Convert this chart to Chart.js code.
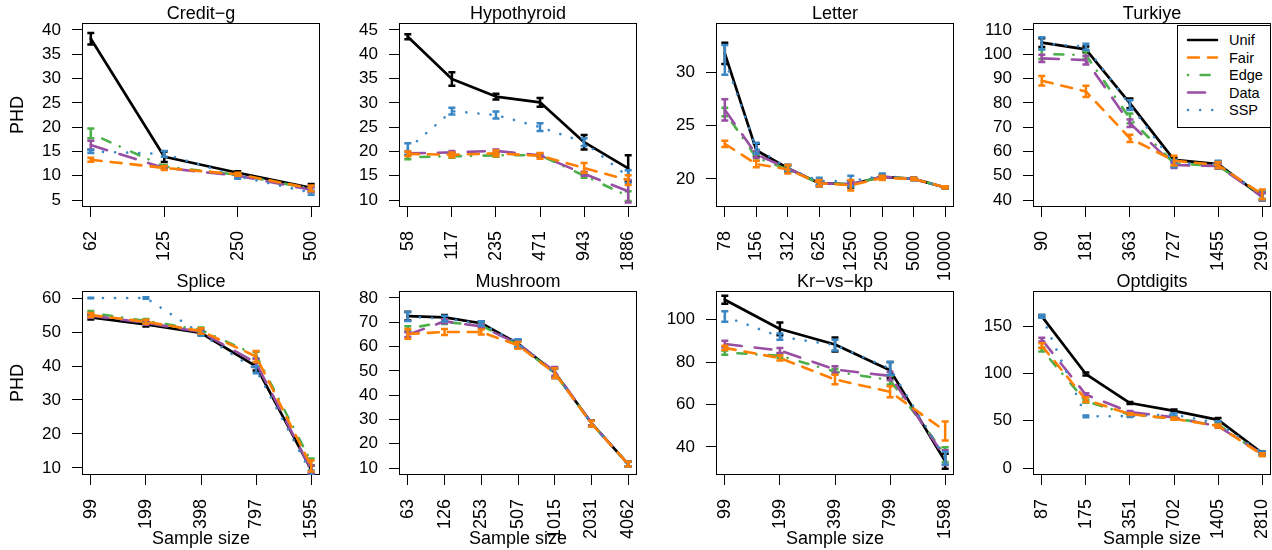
<!DOCTYPE html>
<html>
<head>
<meta charset="utf-8">
<title>PHD by sample size</title>
<script src="https://cdn.jsdelivr.net/npm/chart.js@4.4.1/dist/chart.umd.min.js"></script>
<style>
  body { margin: 0; background: #fff; width: 1272px; height: 550px; position: relative; overflow: hidden; }
  canvas { position: absolute; }
  #legend {
    position: absolute; left: 1177px; top: 25px; width: 94px; height: 103px;
    box-sizing: border-box; border: 1px solid #000; background: #fff; z-index: 10;
    font-family: "Liberation Sans", Arial, sans-serif;
  }
</style>
</head>
<body>
<div id="legend"></div>
<script>
// series, in legend order: Unif, Fair, Edge, Data, SSP
const seriesNames = ["Unif", "Fair", "Edge", "Data", "SSP"];

// Credit-g
const creditSizes = [62, 125, 250, 500];
const creditTicks = [5, 10, 15, 20, 25, 30, 35, 40];
const creditMeans = [
  [38.2, 13.9, 10.6, 7.5],
  [13.3, 11.6, 10.3, 7.4],
  [18.7, 11.9, 10.2, 7.3],
  [16.3, 11.6, 10.0, 7.1],
  [15.0, 14.5, 9.9, 6.5]
];
const creditErrs = [
  [1.2, 1.1, 0.3, 0.8],
  [0.4, 0.4, 0.3, 0.6],
  [1.0, 0.3, 0.3, 0.5],
  [0.9, 0.3, 0.3, 0.5],
  [0.3, 0.6, 0.5, 0.4]
];

// Hypothyroid
const hypoSizes = [58, 117, 235, 471, 943, 1886];
const hypoTicks = [10, 15, 20, 25, 30, 35, 40, 45];
const hypoMeans = [
  [43.6, 34.9, 31.3, 30.1, 21.9, 16.5],
  [19.5, 19.3, 19.6, 19.1, 16.6, 14.1],
  [18.8, 19.0, 19.2, 19.2, 15.0, 10.8],
  [19.6, 19.8, 20.1, 19.2, 15.4, 11.8],
  [20.5, 28.3, 27.5, 25.0, 21.9, 14.8]
];
const hypoErrs = [
  [0.5, 1.4, 0.6, 0.9, 1.5, 2.7],
  [0.5, 0.5, 0.6, 0.6, 1.0, 1.0],
  [0.4, 0.3, 0.3, 0.3, 0.4, 1.0],
  [0.4, 0.3, 0.3, 0.3, 0.4, 2.3],
  [1.2, 0.7, 0.7, 0.8, 0.8, 1.3]
];

// Letter
const letterSizes = [78, 156, 312, 625, 1250, 2500, 5000, 10000];
const letterTicks = [20, 25, 30];
const letterMeans = [
  [31.8, 22.7, 21.0, 19.6, 19.5, 20.2, 20.0, 19.2],
  [23.3, 21.4, 20.9, 19.6, 19.4, 20.1, 20.0, 19.2],
  [26.3, 22.0, 20.9, 19.6, 19.5, 20.2, 20.0, 19.2],
  [26.5, 22.3, 21.0, 19.6, 19.5, 20.2, 20.0, 19.2],
  [31.2, 22.9, 21.0, 19.8, 19.8, 20.3, 20.0, 19.2]
];
const letterErrs = [
  [1.0, 0.6, 0.3, 0.3, 0.3, 0.2, 0.1, 0.1],
  [0.3, 0.3, 0.4, 0.3, 0.5, 0.2, 0.1, 0.1],
  [0.4, 0.3, 0.3, 0.2, 0.2, 0.1, 0.1, 0.1],
  [1.0, 0.3, 0.3, 0.2, 0.2, 0.1, 0.1, 0.1],
  [1.4, 0.5, 0.3, 0.3, 0.5, 0.2, 0.1, 0.1]
];

// Turkiye
const turkSizes = [90, 181, 363, 727, 1455, 2910];
const turkTicks = [40, 50, 60, 70, 80, 90, 100, 110];
const turkMeans = [
  [104.8, 102.0, 79.8, 56.5, 54.8, 41.4],
  [89.1, 84.7, 65.4, 56.2, 54.4, 42.3],
  [100.1, 99.7, 73.6, 55.1, 54.0, 42.0],
  [98.3, 97.6, 71.6, 54.4, 54.0, 41.4],
  [104.5, 103.1, 79.1, 55.0, 54.7, 42.0]
];
const turkErrs = [
  [1.8, 1.2, 2.0, 1.0, 1.0, 1.5],
  [2.0, 2.3, 1.5, 2.0, 1.2, 2.0],
  [2.0, 1.5, 2.0, 1.2, 1.0, 1.5],
  [1.5, 1.8, 1.5, 1.2, 1.0, 1.5],
  [2.5, 1.2, 2.0, 1.5, 1.5, 2.0]
];

// Splice
const spliceSizes = [99, 199, 398, 797, 1595];
const spliceTicks = [10, 20, 30, 40, 50, 60];
const spliceMeans = [
  [54.3, 52.2, 49.7, 39.9, 9.5],
  [55.0, 53.0, 50.3, 42.8, 10.6],
  [55.6, 53.3, 50.6, 43.2, 11.8],
  [54.8, 52.7, 50.0, 40.9, 9.5],
  [60.0, 60.0, 49.5, 38.9, 8.5]
];
const spliceErrs = [
  [0.6, 0.6, 0.6, 1.2, 1.2],
  [0.6, 0.6, 0.8, 1.6, 1.6],
  [0.6, 0.5, 0.7, 1.0, 1.0],
  [0.6, 0.6, 0.6, 1.2, 1.2],
  [0.1, 0.2, 0.6, 1.0, 0.8]
];

// Mushroom
const mushSizes = [63, 126, 253, 507, 1015, 2031, 4062];
const mushTicks = [10, 20, 30, 40, 50, 60, 70, 80];
const mushMeans = [
  [72.5, 72.0, 69.6, 61.2, 49.3, 28.5, 11.6],
  [65.2, 66.0, 66.0, 60.5, 49.1, 28.3, 11.6],
  [67.4, 70.1, 68.7, 60.8, 49.0, 28.5, 11.6],
  [64.9, 70.4, 68.3, 61.1, 49.8, 28.5, 11.6],
  [72.3, 71.5, 69.5, 61.5, 49.0, 28.3, 11.5]
];
const mushErrs = [
  [1.8, 1.0, 0.8, 1.6, 2.0, 1.2, 1.0],
  [2.0, 1.2, 1.0, 1.4, 2.0, 1.2, 1.0],
  [1.0, 0.8, 0.8, 1.2, 1.8, 1.0, 1.0],
  [1.0, 0.8, 0.8, 1.2, 1.8, 1.0, 1.0],
  [1.8, 1.2, 0.9, 1.5, 2.0, 1.2, 1.0]
];

// Kr-vs-kp
const krSizes = [99, 199, 399, 799, 1598];
const krTicks = [40, 60, 80, 100];
const krMeans = [
  [109.4, 95.6, 88.3, 76.2, 33.3],
  [86.7, 81.9, 71.8, 66.0, 47.5],
  [84.5, 83.0, 75.5, 71.5, 36.4],
  [88.5, 85.5, 76.5, 73.5, 35.0],
  [101.5, 92.0, 88.0, 77.0, 34.8]
];
const krErrs = [
  [1.9, 3.0, 3.3, 3.8, 3.5],
  [1.0, 1.2, 2.2, 2.6, 4.5],
  [1.0, 1.0, 1.2, 2.0, 3.5],
  [1.5, 1.2, 1.5, 2.0, 3.5],
  [2.5, 1.5, 2.5, 3.0, 3.0]
];

// Optdigits
const optSizes = [87, 175, 351, 702, 1405, 2810];
const optTicks = [0, 50, 100, 150];
const optMeans = [
  [160.6, 99.5, 68.8, 60.5, 51.0, 15.9],
  [129.5, 72.3, 57.0, 52.2, 44.5, 14.1],
  [125.3, 70.6, 56.5, 52.2, 45.9, 14.1],
  [136.0, 77.6, 59.3, 53.6, 44.1, 15.0],
  [160.6, 54.7, 55.0, 56.5, 47.6, 15.9]
];
const optErrs = [
  [1.5, 1.5, 1.0, 1.5, 2.0, 1.5],
  [2.5, 2.5, 1.0, 1.2, 1.5, 1.5],
  [2.0, 1.5, 1.0, 1.0, 1.5, 1.5],
  [2.0, 1.5, 1.0, 1.0, 1.5, 1.5],
  [1.5, 1.0, 1.0, 1.5, 2.0, 1.5]
];

// line styles per series
const seriesColors = ["#000000", "#FF7F00", "#4DAF4A", "#984EA3", "#3A87C6"];
const seriesDash = [[], [11, 9], [0.1, 12.5, 9, 10], [17, 13], [0.1, 12]];
const seriesWidth = [2.7, 2.6, 2.6, 2.6, 2.6];
const seriesOrder = [4, 0, 3, 2, 1]; // lower order is drawn on top

const panels = [
  { title: "Credit\u2212g", sizes: creditSizes, means: creditMeans, errs: creditErrs, ticks: creditTicks, yMin: 3.56, yMax: 41.44 },
  { title: "Hypothyroid", sizes: hypoSizes, means: hypoMeans, errs: hypoErrs, ticks: hypoTicks, yMin: 8.56, yMax: 46.44 },
  { title: "Letter", sizes: letterSizes, means: letterMeans, errs: letterErrs, ticks: letterTicks, yMin: 17.36, yMax: 34.66 },
  { title: "Turkiye", sizes: turkSizes, means: turkMeans, errs: turkErrs, ticks: turkTicks, yMin: 37.12, yMax: 112.88 },
  { title: "Splice", sizes: spliceSizes, means: spliceMeans, errs: spliceErrs, ticks: spliceTicks, yMin: 7.94, yMax: 62.06 },
  { title: "Mushroom", sizes: mushSizes, means: mushMeans, errs: mushErrs, ticks: mushTicks, yMin: 7.12, yMax: 82.88 },
  { title: "Kr\u2212vs\u2212kp", sizes: krSizes, means: krMeans, errs: krErrs, ticks: krTicks, yMin: 26.8, yMax: 113.5 },
  { title: "Optdigits", sizes: optSizes, means: optMeans, errs: optErrs, ticks: optTicks, yMin: -7.4, yMax: 187.4 }
];

const FONT = '"Liberation Sans", Arial, sans-serif';
Chart.defaults.font.family = FONT;
Chart.defaults.color = "#000";

// canvas geometry
const CW = 322, CH = 282;
const COL_STEP = 317, ROW_STEP = 268;
const AXIS_W = 82;        // y axis strip -> plot box starts at x=82
const BOX_BOTTOM = 207;   // plot box bottom inside each canvas

// plot frame around the chart area
const framePlugin = {
  id: "frame",
  beforeDatasetsDraw(chart) {
    const { ctx, chartArea: a } = chart;
    ctx.save();
    ctx.strokeStyle = "#000";
    ctx.lineWidth = 1;
    ctx.strokeRect(Math.round(a.left) + 0.5, Math.round(a.top) + 0.5,
      Math.round(a.right - a.left) - 1, Math.round(a.bottom - a.top) - 1);
    ctx.restore();
  }
};

// vertical error bars with caps, drawn right after each line
const errorBarPlugin = {
  id: "errorBars",
  afterDatasetDraw(chart, args) {
    const ds = chart.data.datasets[args.index];
    if (!ds.errors) return;
    const { ctx, chartArea: a, scales: { x, y } } = chart;
    const cap = 3.5;
    ctx.save();
    ctx.beginPath();
    ctx.rect(a.left, a.top, a.right - a.left, a.bottom - a.top);
    ctx.clip();
    ctx.strokeStyle = ds.borderColor;
    ctx.lineWidth = 2.5;
    ctx.lineCap = "butt";
    ctx.setLineDash([]);
    ds.data.forEach((p, i) => {
      const px = x.getPixelForValue(p.x);
      const lo = y.getPixelForValue(p.y - ds.errors[i]);
      const hi = y.getPixelForValue(p.y + ds.errors[i]);
      ctx.beginPath();
      ctx.moveTo(px, lo); ctx.lineTo(px, hi);
      ctx.moveTo(px - cap, lo); ctx.lineTo(px + cap, lo);
      ctx.moveTo(px - cap, hi); ctx.lineTo(px + cap, hi);
      ctx.stroke();
    });
    ctx.restore();
  }
};

// fixed axis strips; drop the label overhang padding so the plot box keeps its size
const fixX = axis => {
  axis.height = CH - BOX_BOTTOM;
  axis.paddingLeft = axis.paddingRight = 0;
};
const fixY = axis => {
  axis.width = AXIS_W;
  axis.paddingTop = axis.paddingBottom = 0;
};

panels.forEach((p, k) => {
  const row = Math.floor(k / 4), col = k % 4;
  const canvas = document.createElement("canvas");
  canvas.width = CW;
  canvas.height = CH;
  canvas.style.left = (col * COL_STEP) + "px";
  canvas.style.top = (row * ROW_STEP) + "px";
  document.body.appendChild(canvas);

  const n = p.sizes.length;
  const datasets = seriesNames.map((name, s) => ({
    label: name,
    data: p.means[s].map((v, i) => ({ x: i, y: v })),
    errors: p.errs[s],
    borderColor: seriesColors[s],
    backgroundColor: seriesColors[s],
    borderWidth: seriesWidth[s],
    borderDash: seriesDash[s],
    borderCapStyle: "round",
    borderJoinStyle: "round",
    pointRadius: 0,
    tension: 0,
    order: seriesOrder[s]
  }));

  new Chart(canvas, {
    type: "line",
    data: { datasets },
    plugins: [framePlugin, errorBarPlugin],
    options: {
      responsive: false,
      animation: false,
      devicePixelRatio: 1,
      layout: { autoPadding: false, padding: { left: 0, right: 2, top: 0, bottom: 0 } },
      plugins: {
        legend: { display: false },
        tooltip: { enabled: false },
        title: {
          display: true,
          text: p.title,
          fullSize: false,
          color: "#000",
          font: { size: 18, weight: "normal", lineHeight: 1 },
          padding: { top: 5, bottom: 0 }
        }
      },
      scales: {
        x: {
          type: "linear",
          min: -0.04 * (n - 1),
          max: 1.04 * (n - 1),
          afterBuildTicks: axis => { axis.ticks = p.sizes.map((_, i) => ({ value: i })); },
          afterFit: fixX,
          grid: { drawOnChartArea: false, drawTicks: true, tickLength: 10, color: "#000", lineWidth: 1 },
          border: { display: false },
          ticks: {
            autoSkip: false, minRotation: 90, maxRotation: 90, padding: 14,
            color: "#000", font: { size: 18 },
            callback: v => p.sizes[v]
          },
          title: {
            display: row === 1, text: "Sample size", color: "#000",
            font: { size: 18 }, padding: { top: 0, bottom: 0 }
          }
        },
        y: {
          type: "linear",
          min: p.yMin,
          max: p.yMax,
          afterBuildTicks: axis => { axis.ticks = p.ticks.map(v => ({ value: v })); },
          afterFit: fixY,
          grid: { drawOnChartArea: false, drawTicks: true, tickLength: 10, color: "#000", lineWidth: 1 },
          border: { display: false },
          ticks: { color: "#000", font: { size: 17 }, padding: 11 },
          title: {
            display: col === 0, text: "PHD", color: "#000",
            font: { size: 18 }, padding: { top: 7.5, bottom: 0 }
          }
        }
      }
    }
  });
});

// legend box inside the Turkiye panel
const legendBox = document.getElementById("legend");
let svg = '<svg width="92" height="101" xmlns="http://www.w3.org/2000/svg">';
seriesNames.forEach((name, s) => {
  const y = 14 + s * 17.5;
  svg += `<line x1="10" x2="39" y1="${y}" y2="${y}" stroke="${seriesColors[s]}" stroke-width="2.5"` +
    ` stroke-linecap="round" stroke-dasharray="${seriesDash[s].length ? seriesDash[s].join(" ") : "none"}"/>`;
  svg += `<text x="51" y="${y}" dy="0.36em" font-size="14.5" fill="#000">${name}</text>`;
});
svg += "</svg>";
legendBox.innerHTML = svg;
</script>
</body>
</html>
